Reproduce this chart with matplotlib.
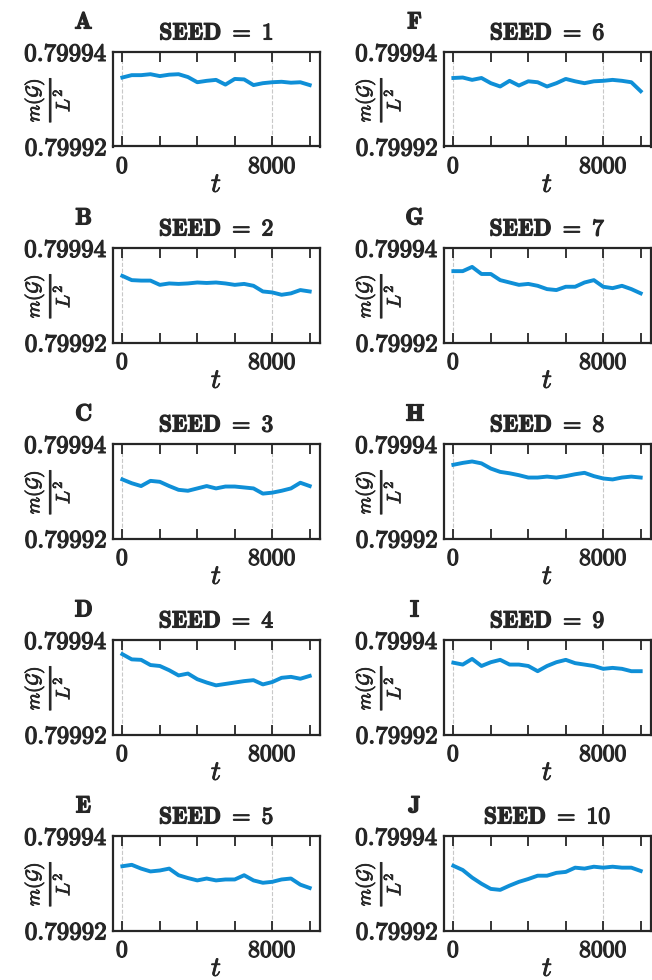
import numpy as np
import matplotlib
matplotlib.use('Agg')
import matplotlib.pyplot as plt
import matplotlib.patheffects as pe
from matplotlib.ticker import FixedLocator, FixedFormatter

plt.rcParams['mathtext.fontset'] = 'cm'
plt.rcParams['font.family'] = ['DejaVu Serif']

# time samples (read every 500 steps)
t = [0, 500, 1000, 1500, 2000, 2500, 3000, 3500, 4000, 4500, 5000,
     5500, 6000, 6500, 7000, 7500, 8000, 8500, 9000, 9500, 10000]

seed1 = [0.7999346, 0.7999351, 0.7999351, 0.7999353, 0.7999349, 0.7999352, 0.7999353,
         0.7999347, 0.7999336, 0.7999339, 0.7999341, 0.7999331, 0.7999343, 0.7999342,
         0.7999330, 0.7999334, 0.7999336, 0.7999337, 0.7999335, 0.7999336, 0.7999330]
seed2 = [0.7999341, 0.7999332, 0.7999331, 0.7999331, 0.7999322, 0.7999325, 0.7999324,
         0.7999325, 0.7999327, 0.7999326, 0.7999327, 0.7999325, 0.7999322, 0.7999324,
         0.7999320, 0.7999308, 0.7999306, 0.7999301, 0.7999304, 0.7999311, 0.7999308]
seed3 = [0.7999325, 0.7999317, 0.7999311, 0.7999322, 0.7999320, 0.7999311, 0.7999303,
         0.7999301, 0.7999306, 0.7999311, 0.7999306, 0.7999310, 0.7999310, 0.7999308,
         0.7999306, 0.7999295, 0.7999297, 0.7999301, 0.7999306, 0.7999318, 0.7999311]
seed4 = [0.7999370, 0.7999359, 0.7999358, 0.7999347, 0.7999345, 0.7999336, 0.7999325,
         0.7999329, 0.7999317, 0.7999310, 0.7999304, 0.7999307, 0.7999310, 0.7999313,
         0.7999315, 0.7999306, 0.7999311, 0.7999320, 0.7999322, 0.7999318, 0.7999324]
seed5 = [0.7999336, 0.7999339, 0.7999331, 0.7999325, 0.7999327, 0.7999331, 0.7999317,
         0.7999311, 0.7999306, 0.7999310, 0.7999306, 0.7999308, 0.7999308, 0.7999317,
         0.7999306, 0.7999301, 0.7999303, 0.7999308, 0.7999310, 0.7999297, 0.7999290]
seed6 = [0.7999345, 0.7999346, 0.7999341, 0.7999345, 0.7999334, 0.7999327, 0.7999339,
         0.7999329, 0.7999338, 0.7999336, 0.7999327, 0.7999334, 0.7999343, 0.7999338,
         0.7999334, 0.7999338, 0.7999339, 0.7999341, 0.7999339, 0.7999336, 0.7999317]
seed7 = [0.7999351, 0.7999351, 0.7999360, 0.7999345, 0.7999345, 0.7999332, 0.7999327,
         0.7999322, 0.7999324, 0.7999320, 0.7999313, 0.7999311, 0.7999318, 0.7999318,
         0.7999327, 0.7999332, 0.7999318, 0.7999315, 0.7999320, 0.7999313, 0.7999304]
seed8 = [0.7999356, 0.7999360, 0.7999363, 0.7999359, 0.7999348, 0.7999341, 0.7999338,
         0.7999334, 0.7999329, 0.7999329, 0.7999331, 0.7999329, 0.7999332, 0.7999336,
         0.7999339, 0.7999332, 0.7999327, 0.7999325, 0.7999329, 0.7999331, 0.7999329]
seed9 = [0.7999352, 0.7999348, 0.7999360, 0.7999345, 0.7999353, 0.7999358, 0.7999348,
         0.7999348, 0.7999345, 0.7999334, 0.7999345, 0.7999353, 0.7999358, 0.7999351,
         0.7999348, 0.7999345, 0.7999339, 0.7999341, 0.7999339, 0.7999334, 0.7999334]
seed10 = [0.7999337, 0.7999328, 0.7999312, 0.7999299, 0.7999288, 0.7999286, 0.7999295,
          0.7999303, 0.7999309, 0.7999316, 0.7999316, 0.7999322, 0.7999324, 0.7999333,
          0.7999331, 0.7999335, 0.7999333, 0.7999335, 0.7999333, 0.7999333, 0.7999326]

series = [seed1, seed2, seed3, seed4, seed5, seed6, seed7, seed8, seed9, seed10]
letters = ['A', 'B', 'C', 'D', 'E', 'F', 'G', 'H', 'I', 'J']
ytick_vals = [0.79992, 0.79994]
ytick_labels = ['0.79992', '0.79994']
xtick_major = [0, 8000]
xtick_labels = ['0', '8000']
xtick_minor = [2000, 4000, 6000, 10000]

ink = '#262626'
blue = '#0f8fd7'
# thicken the cm text a bit so it looks like bold extended
bold = [pe.withStroke(linewidth=0.9, foreground=ink)]
bold_thin = [pe.withStroke(linewidth=0.6, foreground=ink)]

W, H = 652, 980
fig = plt.figure(figsize=(W / 100, H / 100), dpi=100)

col_left = [113, 444]
ax_w = 207
ax_h = 94.5
row_top = [52, 248, 444, 640, 836]

for i, y in enumerate(series):
    col, row = divmod(i, 5)
    left = col_left[col]
    top = row_top[row]
    ax = fig.add_axes([left / W, 1 - (top + ax_h) / H, ax_w / W, ax_h / H])

    ax.plot(t, y, color=blue, lw=2.8, solid_joinstyle='round')

    ax.set_xlim(-500, 10550)
    ax.set_ylim(ytick_vals[0], ytick_vals[1])

    ax.xaxis.set_major_locator(FixedLocator(xtick_major))
    ax.xaxis.set_major_formatter(FixedFormatter([r'$\mathbf{%s}$' % s for s in xtick_labels]))
    ax.xaxis.set_minor_locator(FixedLocator(xtick_minor))
    ax.yaxis.set_major_locator(FixedLocator(ytick_vals))
    ax.yaxis.set_major_formatter(FixedFormatter([r'$\mathbf{%s}$' % s for s in ytick_labels]))

    ax.tick_params(axis='x', which='both', direction='in', top=True, bottom=True,
                   length=7, width=1.3, color=ink, labelsize=17, labelcolor=ink, pad=6)
    ax.tick_params(axis='y', which='both', direction='in', left=True, right=True,
                   length=0, labelsize=18, labelcolor=ink, pad=4)
    for lab in ax.get_xticklabels() + ax.get_yticklabels():
        lab.set_path_effects(bold)

    ax.grid(True, axis='x', which='major', linestyle='--', color='#c8c8c8', lw=0.8)

    for sp in ax.spines.values():
        sp.set_color(ink)
        sp.set_linewidth(1.6)

    ax.set_title(r'$\mathbf{SEED\ =\ %d}$' % (i + 1), fontsize=17, color=ink, pad=9,
                 path_effects=bold)
    ax.set_xlabel(r'$t$', fontsize=20, color=ink, labelpad=-5, path_effects=bold_thin)
    ax.set_ylabel(r'$\frac{m(\mathcal{G})}{L^2}$', fontsize=20, color=ink,
                  path_effects=bold_thin)
    ax.yaxis.set_label_coords(-0.2, 0.5)

    fig.text((left - 29) / W, 1 - 22 / H - row * 196 / H, r'$\mathbf{%s}$' % letters[i],
             fontsize=17, color=ink, ha='center', va='center', path_effects=bold)

fig.savefig('out.png', dpi=100)
